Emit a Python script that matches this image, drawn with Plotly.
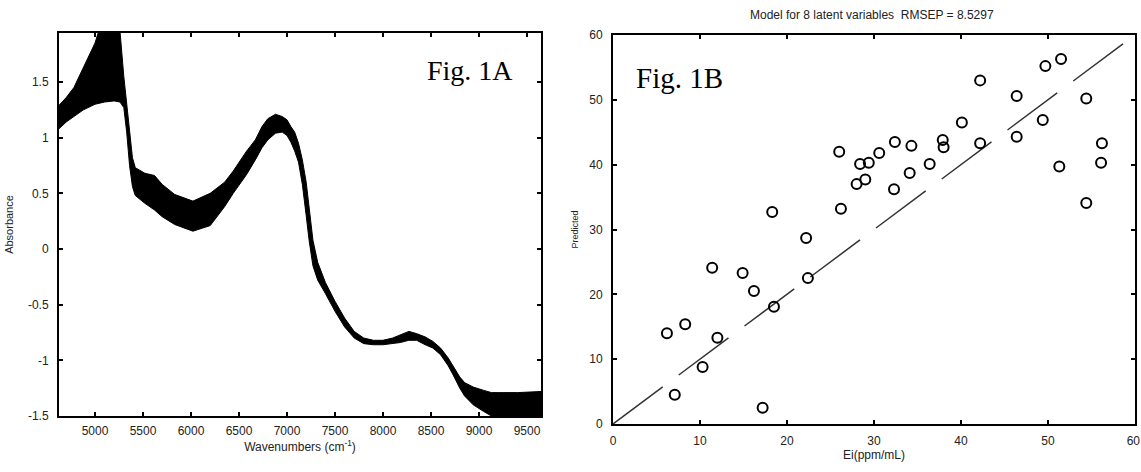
import plotly.graph_objects as go

# ---------------- Fig. 1A : NIR spectra band (envelope) ----------------
wavenumber = [4625, 4700, 4780, 4880, 5000, 5040, 5100, 5200, 5260, 5300, 5330, 5360, 5390,
              5420, 5520, 5620, 5700, 5830, 6020, 6200, 6350, 6440, 6580, 6670, 6740, 6800,
              6880, 6950, 7000, 7040, 7080, 7120, 7160, 7200, 7230, 7270, 7320, 7400, 7500,
              7600, 7700, 7800, 7900, 8000, 8100, 8180, 8270, 8350, 8440, 8520, 8600, 8680,
              8730, 8800, 8850, 8940, 9050, 9130, 9200, 9400, 9646]
absorb_upper = [1.29, 1.36, 1.45, 1.63, 1.85, 1.96, 2.00, 2.00, 1.96, 1.55, 1.30, 1.05, 0.82,
                0.73, 0.68, 0.66, 0.58, 0.49, 0.43, 0.50, 0.60, 0.70, 0.88, 0.98, 1.10, 1.17,
                1.21, 1.19, 1.16, 1.10, 1.05, 0.95, 0.80, 0.60, 0.35, 0.08, -0.12, -0.30, -0.47,
                -0.62, -0.74, -0.80, -0.82, -0.82, -0.80, -0.77, -0.74, -0.76, -0.79, -0.83, -0.89, -0.98,
                -1.05, -1.15, -1.20, -1.24, -1.27, -1.29, -1.29, -1.29, -1.28]
absorb_lower = [1.08, 1.14, 1.19, 1.25, 1.30, 1.31, 1.32, 1.33, 1.32, 1.27, 1.05, 0.75, 0.56,
                0.48, 0.41, 0.35, 0.29, 0.22, 0.16, 0.21, 0.38, 0.50, 0.67, 0.80, 0.91, 0.98,
                1.04, 1.05, 1.02, 0.96, 0.88, 0.78, 0.58, 0.30, 0.08, -0.15, -0.28, -0.40, -0.56,
                -0.70, -0.80, -0.85, -0.86, -0.86, -0.85, -0.84, -0.82, -0.82, -0.86, -0.89, -0.95, -1.05,
                -1.13, -1.25, -1.32, -1.40, -1.46, -1.50, -1.55, -1.55, -1.55]
wn_ticks = [5000, 5500, 6000, 6500, 7000, 7500, 8000, 8500, 9000, 9500]
abs_ticks = [-1.5, -1, -0.5, 0, 0.5, 1, 1.5]
abs_ticklabels = ["-1.5", "-1", "-0.5", "0", "0.5", "1", "1.5"]

# ---------------- Fig. 1B : predicted vs reference ----------------
reference = [6.2, 8.3, 7.1, 10.3, 11.4, 12.0, 14.9, 16.2, 18.5, 17.2, 22.4, 22.2, 18.3,
             26.0, 26.2, 28.4, 29.4, 30.6, 28.0, 29.0, 32.4, 34.3, 32.3, 34.1, 36.4,
             37.9, 38.0, 40.1, 42.2, 42.2, 46.4, 46.4, 49.4, 49.7, 51.5, 51.3, 54.4,
             54.4, 56.2, 56.1]
predicted = [14.0, 15.4, 4.5, 8.8, 24.1, 13.3, 23.3, 20.5, 18.1, 2.5, 22.5, 28.7, 32.7,
             42.0, 33.2, 40.1, 40.3, 41.8, 37.0, 37.7, 43.5, 42.9, 36.2, 38.7, 40.1,
             43.8, 42.7, 46.5, 53.0, 43.3, 50.6, 44.3, 46.9, 55.2, 56.3, 39.7, 50.2,
             34.1, 43.3, 40.3]
ideal_line = [0, 60]
ax_ticks_b = [0, 10, 20, 30, 40, 50, 60]
ax_ticklabels_x_b = ["0", "10", "20", "30", "40", "50", "60\u00a0"]

W, H = 1141, 472


def px(x):
    return x / W


def py(y):
    return (H - y) / H


tick_font = dict(family="Liberation Sans, Arial", size=12, color="#222222")
title_font = dict(family="Liberation Sans, Arial", size=12, color="#222222")

fig = go.Figure()

fig.add_trace(go.Scatter(x=wavenumber, y=absorb_lower, mode="lines",
                         line=dict(color="black", width=1), xaxis="x", yaxis="y",
                         showlegend=False, hoverinfo="skip"))
fig.add_trace(go.Scatter(x=wavenumber, y=absorb_upper, mode="lines", fill="tonexty",
                         fillcolor="black", line=dict(color="black", width=1),
                         xaxis="x", yaxis="y", showlegend=False))

fig.add_trace(go.Scatter(x=ideal_line, y=ideal_line, mode="lines",
                         line=dict(color="#333333", width=1.5, dash="62px,20px"),
                         xaxis="x2", yaxis="y2", showlegend=False))
fig.add_trace(go.Scatter(x=reference, y=predicted, mode="markers",
                         marker=dict(symbol="circle-open", size=10, color="black",
                                     line=dict(width=2, color="black")),
                         xaxis="x2", yaxis="y2", showlegend=False))

axis_common = dict(showline=True, linecolor="black", linewidth=2, mirror="ticks",
                   ticks="inside", ticklen=4, tickwidth=1.5, tickcolor="black",
                   showgrid=False, zeroline=False, tickfont=tick_font, automargin=False,
                   ticklabeloverflow="allow")

fig.update_layout(
    template="none",
    width=W, height=H,
    margin=dict(l=0, r=0, t=0, b=0, pad=0),
    paper_bgcolor="white", plot_bgcolor="white",
    xaxis=dict(domain=[px(59), px(541)], range=[4625, 9646], tickvals=wn_ticks,
               anchor="y", ticklabelstandoff=3,
               title=dict(text="Wavenumbers (cm<sup>-1</sup>)", standoff=2, font=title_font),
               **axis_common),
    yaxis=dict(domain=[py(416), py(33)], range=[-1.5, 1.94],
               tickvals=abs_ticks, ticktext=abs_ticklabels, anchor="x", ticklabelstandoff=6,
               title=dict(text="Absorbance", standoff=12,
                          font=dict(family="Liberation Sans, Arial", size=11, color="#222222")),
               **axis_common),
    xaxis2=dict(domain=[px(613), px(1135)], range=[0, 60], tickvals=ax_ticks_b,
                ticktext=ax_ticklabels_x_b, anchor="y2", ticklabelstandoff=5,
                title=dict(text="Ei(ppm/mL)", standoff=2, font=title_font),
                **axis_common),
    yaxis2=dict(domain=[py(424), py(35)], range=[0, 60], tickvals=ax_ticks_b,
                anchor="x2", ticklabelstandoff=6,
                title=dict(text="Predicted", standoff=9,
                           font=dict(family="Liberation Sans, Arial", size=9, color="#222222")),
                **axis_common),
    annotations=[
        dict(text="Fig. 1A", x=px(515), y=py(70), xref="paper", yref="paper",
             xanchor="right", yanchor="middle", showarrow=False,
             font=dict(family="Liberation Serif, Times New Roman", size=28, color="black")),
        dict(text="Fig. 1B", x=px(634), y=py(78), xref="paper", yref="paper",
             xanchor="left", yanchor="middle", showarrow=False,
             font=dict(family="Liberation Serif, Times New Roman", size=29, color="black")),
        dict(text="Model for 8 latent variables  RMSEP = 8.5297", x=px(872), y=py(15),
             xref="paper", yref="paper", xanchor="center", yanchor="middle", showarrow=False,
             font=dict(family="Liberation Sans, Arial", size=12, color="#222222")),
    ],
)

# remove the default page margin so the 1141x472 figure fills the window exactly
fig.write_html("out.html",
               config={"displayModeBar": False},
               post_script="document.body.style.margin='0';document.body.style.overflow='hidden';")
